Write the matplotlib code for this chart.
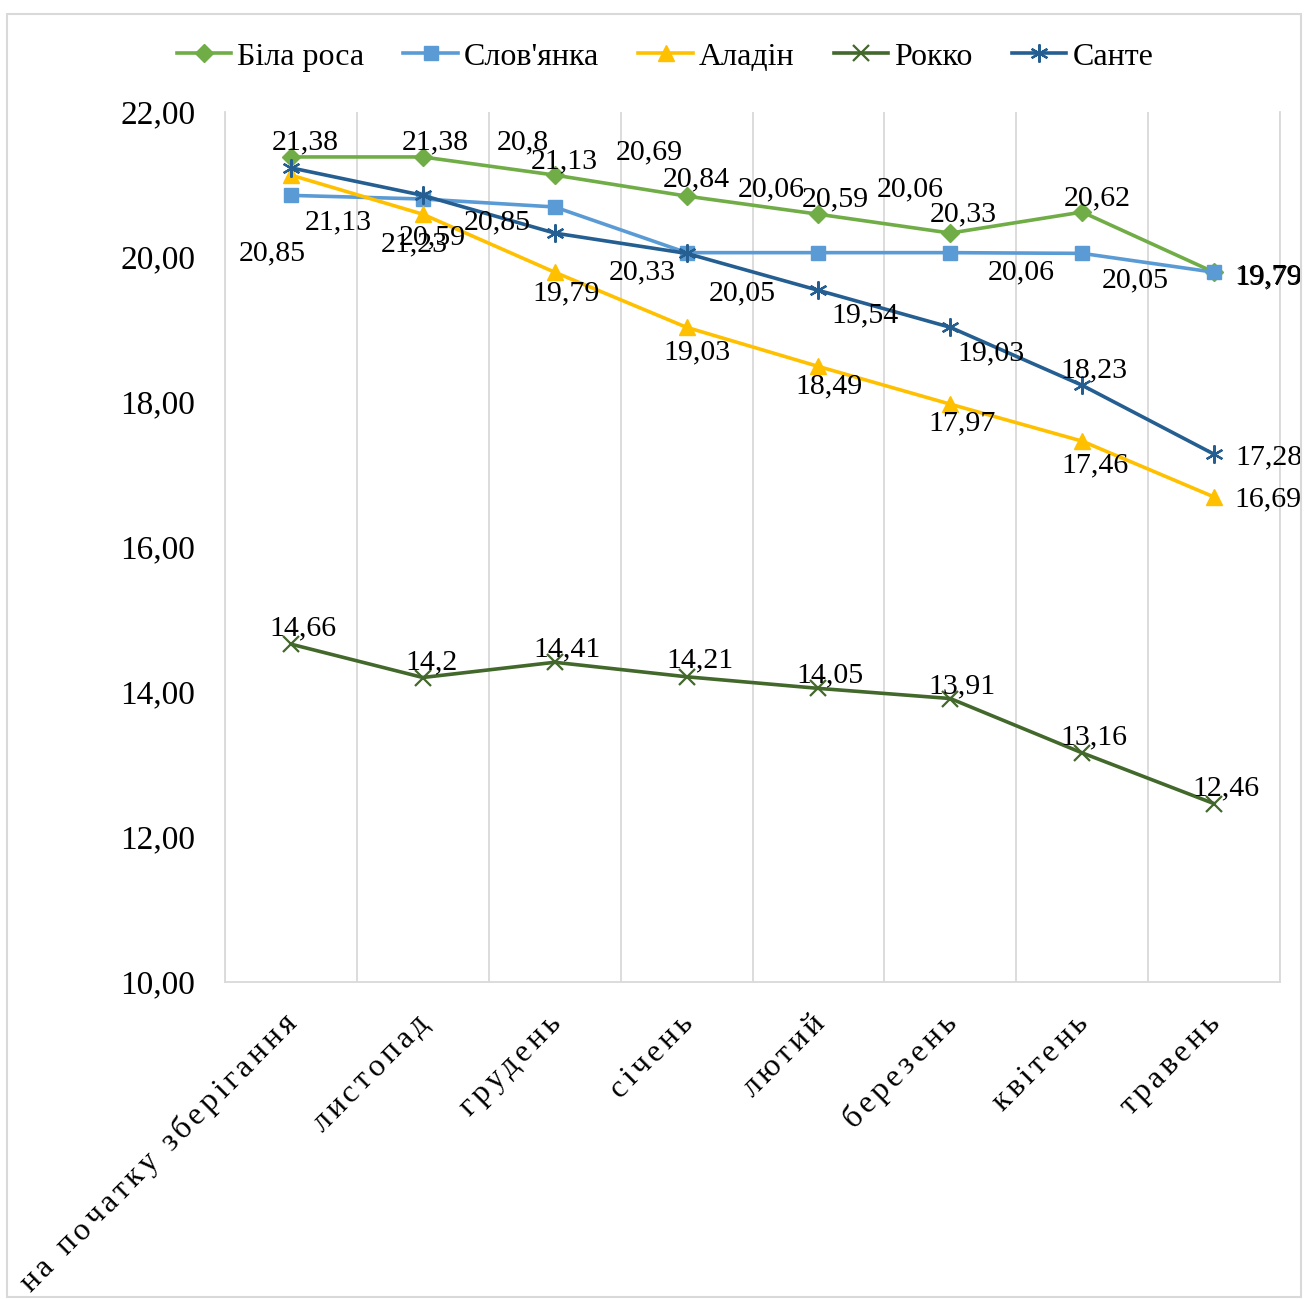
import matplotlib
matplotlib.use("Agg")
import matplotlib.pyplot as plt
from matplotlib.patches import Rectangle
from matplotlib.font_manager import FontProperties
import numpy as np

plt.rcParams['font.family'] = ['Liberation Serif', 'DejaVu Serif']

categories = ["на початку зберігання", "листопад", "грудень", "січень",
              "лютий", "березень", "квітень", "травень"]
bila_rosa = [21.38, 21.38, 21.13, 20.84, 20.59, 20.33, 20.62, 19.79]
slovianka = [20.85, 20.80, 20.69, 20.06, 20.06, 20.06, 20.05, 19.79]
aladin = [21.13, 20.59, 19.79, 19.03, 18.49, 17.97, 17.46, 16.69]
rokko = [14.66, 14.20, 14.41, 14.21, 14.05, 13.91, 13.16, 12.46]
sante = [21.23, 20.85, 20.33, 20.05, 19.54, 19.03, 18.23, 17.28]
series_names = ["Біла роса", "Слов'янка", "Аладін", "Рокко", "Санте"]
y_ticks = [10, 12, 14, 16, 18, 20, 22]

# label offsets in pixels (dx right, dy down)
label_offsets = {
    "Біла роса": [(14, -15), (12, -15), (10, -14), (10, -17), (17, -15), (13, -19), (15, -14), (54, 4)],
    "Слов'янка": [(-19, 58), (100, -57), (95, -55), (85, -63), (92, -63), (71, 20), (53, 27), (55, 5)],
    "Аладін": [(47, 47), (10, 23), (11, 21), (10, 25), (11, 20), (12, 19), (13, 24), (54, 2)],
    "Рокко": [(12, -16), (9, -15), (12, -13), (13, -16), (11, -13), (12, -12), (12, -16), (12, -15)],
    "Санте": [(123, 77), (74, 27), (88, 39), (56, 40), (47, 25), (41, 26), (12, -15), (55, 3)],
}

styles = {
    "Біла роса": dict(color="#70AD47", marker="D", ms=9.5),
    "Слов'янка": dict(color="#5B9BD5", marker="s", ms=10),
    "Аладін": dict(color="#FFC000", marker="^", ms=11),
    "Рокко": dict(color="#43682B", marker="x", ms=11, mew=1.6),
    "Санте": dict(color="#255E91", marker=(6, 2, 0), ms=13, mew=1.6),
}

data = {
    "Біла роса": bila_rosa,
    "Слов'янка": slovianka,
    "Аладін": aladin,
    "Рокко": rokko,
    "Санте": sante,
}

W, H = 1304, 1299
fig = plt.figure(figsize=(W / 100, H / 100), dpi=100)
ax = fig.add_axes([225 / W, (H - 982) / H, 1055 / W, 870 / H])

x = np.arange(len(categories))
for name in series_names:
    st = styles[name]
    ax.plot(x, data[name], color=st["color"], lw=2.6, marker=st["marker"],
            ms=st["ms"], mew=st.get("mew", 1.0), mfc=st["color"], mec=st["color"],
            label=name, solid_joinstyle="round", zorder=3)

def fmt(v):
    s = ("%.2f" % v).rstrip("0").rstrip(".")
    return s.replace(".", ",")

for name in series_names:
    for i, v in enumerate(data[name]):
        dx, dy = label_offsets[name][i]
        ax.annotate(fmt(v), (x[i], v), xytext=(dx, -dy), textcoords="offset pixels",
                    ha="center", va="center", fontsize=21.5, color="black", zorder=5)

ax.set_xlim(-0.5, len(categories) - 0.5)
ax.set_ylim(10, 22)
ax.set_yticks(y_ticks)
ax.set_yticklabels([("%.2f" % t).replace(".", ",") for t in y_ticks], fontsize=24)
ax.tick_params(axis="y", length=0, pad=21.5)
ax.set_xticks(x)
ax.set_xticklabels([])
ax.tick_params(axis="x", length=0)
ax.set_xticks(np.arange(-0.5, len(categories), 1.0), minor=True)
ax.tick_params(axis="x", which="minor", length=0)
ax.grid(True, which="minor", axis="x", color="#D9D9D9", lw=1.3)
ax.grid(False, which="major")
ax.spines["top"].set_visible(False)
for sp in ["left", "right", "bottom"]:
    ax.spines[sp].set_color("#D9D9D9")
    ax.spines[sp].set_linewidth(1.3)

# letter-spaced, 45-degree category labels
fp = FontProperties(family=['Liberation Serif', 'DejaVu Serif'], size=23)
renderer = fig.canvas.get_renderer()

def text_w(s):
    return renderer.get_text_width_height_descent(s, fp, ismath=False)[0]

base_w = text_w("oo")
letter_gap = 3.9
end_anchor = (7, -43)
u = np.array([np.cos(np.pi / 4), np.sin(np.pi / 4)])
for i, c in enumerate(categories):
    adv = [text_w("o" + ch + "o") - base_w for ch in c]
    pos = np.concatenate([[0], np.cumsum(np.array(adv) + letter_gap)])[:-1]
    total = pos[-1] + adv[-1]
    for ch, p in zip(c, pos):
        if ch == " ":
            continue
        off = np.array(end_anchor) + (p - total) * u
        ax.annotate(ch, (x[i], 10), xytext=(off[0], off[1]), textcoords="offset pixels",
                    rotation=45, rotation_mode="anchor", ha="left", va="baseline",
                    fontproperties=fp, annotation_clip=False)

leg = fig.legend(loc="center", bbox_to_anchor=(665 / W, 1 - 57 / H), ncol=5, frameon=False,
                 fontsize=23, handlelength=1.7, columnspacing=1.22, handletextpad=0.2)

fig.add_artist(Rectangle((7 / W, 2 / H), (W - 10) / W, (H - 16) / H, transform=fig.transFigure,
                         fill=False, edgecolor="#D9D9D9", lw=1.5))

fig.savefig("out.png", dpi=100)
